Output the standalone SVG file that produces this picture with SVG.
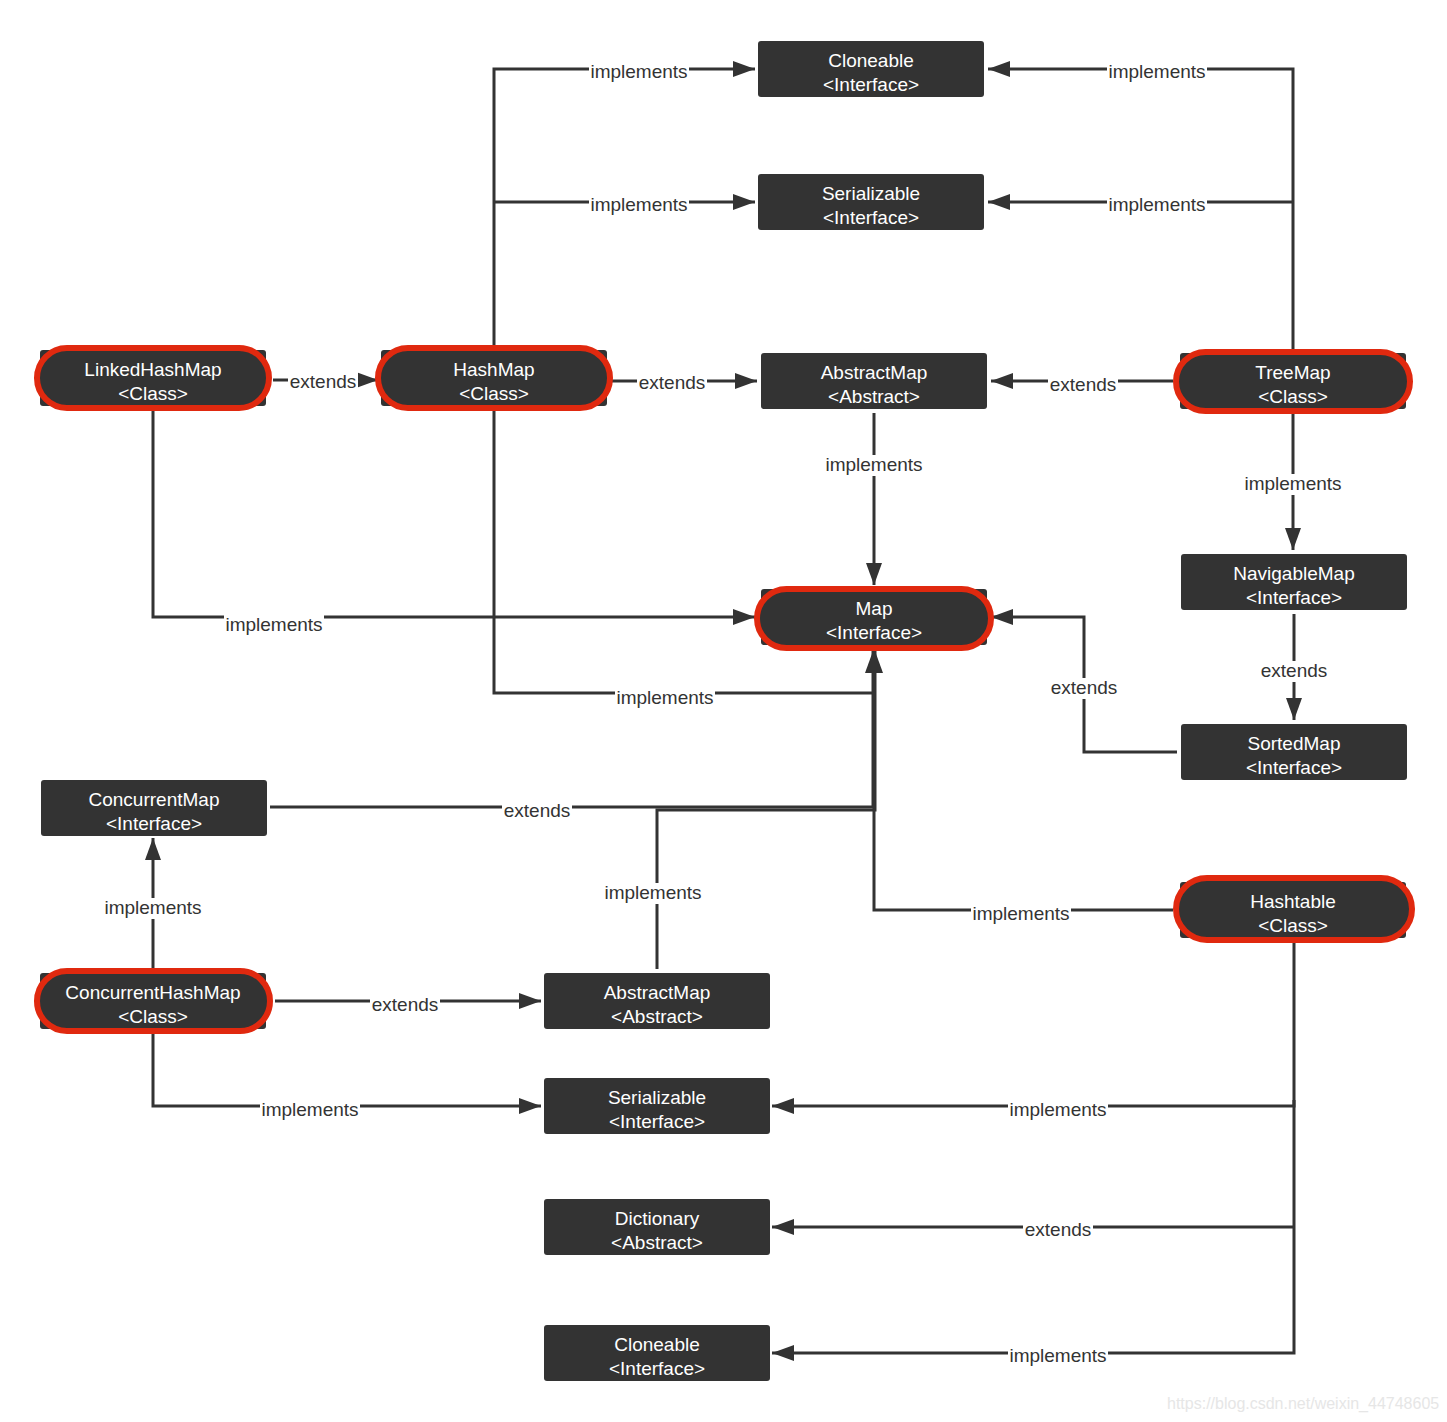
<svg xmlns="http://www.w3.org/2000/svg" width="1447" height="1422" viewBox="0 0 1447 1422">
<style>
.box{fill:#333333;rx:3;ry:3}
.pill{fill:#333333;stroke:#e0290f;stroke-width:6}
.nt{font-family:"Liberation Sans",Arial,sans-serif;font-size:19px;fill:#ffffff;text-anchor:middle}
.edge{fill:none;stroke:#333333;stroke-width:3}
.lb{fill:#ffffff}
.lbl{font-family:"Liberation Sans",Arial,sans-serif;font-size:19px;fill:#333333;text-anchor:middle}
.wm{font-family:"Liberation Sans",Arial,sans-serif;font-size:16px;fill:#e6e6e6}
</style>
<defs>
<marker id="arr" markerUnits="userSpaceOnUse" markerWidth="24" markerHeight="18" refX="22" refY="8" orient="auto">
<path d="M0,0 L22,8 L0,16 Z" fill="#333333"/>
</marker>
<rect id="bi" class="lb" x="-50" y="-16" width="100" height="21"/>
<rect id="be" class="lb" x="-35" y="-16" width="70" height="21"/>
</defs>
<rect width="1447" height="1422" fill="#ffffff"/>

<g id="connectors">
<path class="edge" d="M494,350 V69 H755" marker-end="url(#arr)"/>
<path class="edge" d="M494,202 H755" marker-end="url(#arr)"/>
<path class="edge" d="M1293,353 V69 H988" marker-end="url(#arr)"/>
<path class="edge" d="M1293,202 H988" marker-end="url(#arr)"/>
<path class="edge" d="M273,380 H378" marker-end="url(#arr)"/>
<path class="edge" d="M611,381 H757" marker-end="url(#arr)"/>
<path class="edge" d="M1173,381 H991" marker-end="url(#arr)"/>
<path class="edge" d="M874,413 V585" marker-end="url(#arr)"/>
<path class="edge" d="M1293,414 V550" marker-end="url(#arr)"/>
<path class="edge" d="M1294,614 V720" marker-end="url(#arr)"/>
<path class="edge" d="M1177,752 H1084 V617 H991" marker-end="url(#arr)"/>
<path class="edge" d="M153,411 V617 H755" marker-end="url(#arr)"/>
<path class="edge" d="M494,411 V693 H874 V651" marker-end="url(#arr)"/>
<path class="edge" d="M270,807 H873 V651" marker-end="url(#arr)"/>
<path class="edge" d="M657,969 V810 H875 V651" marker-end="url(#arr)"/>
<path class="edge" d="M1173,910 H874 V651" marker-end="url(#arr)"/>
<path class="edge" d="M153,968 V838" marker-end="url(#arr)"/>
<path class="edge" d="M275,1001 H541" marker-end="url(#arr)"/>
<path class="edge" d="M153,1034 V1106 H541" marker-end="url(#arr)"/>
<path class="edge" d="M1294,943 V1106 H772" marker-end="url(#arr)"/>
<path class="edge" d="M1294,1227 H772" marker-end="url(#arr)"/>
<path class="edge" d="M1294,1100 V1353 H772" marker-end="url(#arr)"/>

<use href="#bi" x="639" y="78"/><text class="lbl" x="639" y="78">implements</text>
<use href="#bi" x="639" y="211"/><text class="lbl" x="639" y="211">implements</text>
<use href="#bi" x="1157" y="78"/><text class="lbl" x="1157" y="78">implements</text>
<use href="#bi" x="1157" y="211"/><text class="lbl" x="1157" y="211">implements</text>
<use href="#be" x="323" y="388"/><text class="lbl" x="323" y="388">extends</text>
<use href="#be" x="672" y="389"/><text class="lbl" x="672" y="389">extends</text>
<use href="#be" x="1083" y="391"/><text class="lbl" x="1083" y="391">extends</text>
<use href="#bi" x="874" y="471"/><text class="lbl" x="874" y="471">implements</text>
<use href="#bi" x="1293" y="490"/><text class="lbl" x="1293" y="490">implements</text>
<use href="#be" x="1294" y="677"/><text class="lbl" x="1294" y="677">extends</text>
<use href="#be" x="1084" y="694"/><text class="lbl" x="1084" y="694">extends</text>
<use href="#bi" x="274" y="631"/><text class="lbl" x="274" y="631">implements</text>
<use href="#bi" x="665" y="704"/><text class="lbl" x="665" y="704">implements</text>
<use href="#be" x="537" y="817"/><text class="lbl" x="537" y="817">extends</text>
<use href="#bi" x="653" y="899"/><text class="lbl" x="653" y="899">implements</text>
<use href="#bi" x="1021" y="920"/><text class="lbl" x="1021" y="920">implements</text>
<use href="#bi" x="153" y="914"/><text class="lbl" x="153" y="914">implements</text>
<use href="#be" x="405" y="1011"/><text class="lbl" x="405" y="1011">extends</text>
<use href="#bi" x="310" y="1116"/><text class="lbl" x="310" y="1116">implements</text>
<use href="#bi" x="1058" y="1116"/><text class="lbl" x="1058" y="1116">implements</text>
<use href="#be" x="1058" y="1236"/><text class="lbl" x="1058" y="1236">extends</text>
<use href="#bi" x="1058" y="1362"/><text class="lbl" x="1058" y="1362">implements</text>
</g>

<g id="cloneable-top">
<rect class="box" x="758" y="41" width="226" height="56"/>
<text class="nt" x="871" y="67">Cloneable</text>
<text class="nt" x="871" y="91">&lt;Interface&gt;</text>
</g>
<g id="serializable-top">
<rect class="box" x="758" y="174" width="226" height="56"/>
<text class="nt" x="871" y="200">Serializable</text>
<text class="nt" x="871" y="224">&lt;Interface&gt;</text>
</g>
<g id="abstractmap-top">
<rect class="box" x="761" y="353" width="226" height="56"/>
<text class="nt" x="874" y="379">AbstractMap</text>
<text class="nt" x="874" y="403">&lt;Abstract&gt;</text>
</g>
<g id="linkedhashmap">
<rect class="box" x="40" y="350" width="226" height="56"/>
<rect class="pill" x="37" y="348" width="232" height="60" rx="30"/>
<text class="nt" x="153" y="376">LinkedHashMap</text>
<text class="nt" x="153" y="400">&lt;Class&gt;</text>
</g>
<g id="hashmap">
<rect class="box" x="381" y="350" width="226" height="56"/>
<rect class="pill" x="378" y="348" width="232" height="60" rx="30"/>
<text class="nt" x="494" y="376">HashMap</text>
<text class="nt" x="494" y="400">&lt;Class&gt;</text>
</g>
<g id="treemap">
<rect class="box" x="1180" y="353" width="226" height="56"/>
<rect class="pill" x="1176" y="352" width="234" height="59" rx="29.5"/>
<text class="nt" x="1293" y="379">TreeMap</text>
<text class="nt" x="1293" y="403">&lt;Class&gt;</text>
</g>
<g id="navigablemap">
<rect class="box" x="1181" y="554" width="226" height="56"/>
<text class="nt" x="1294" y="580">NavigableMap</text>
<text class="nt" x="1294" y="604">&lt;Interface&gt;</text>
</g>
<g id="map">
<rect class="box" x="761" y="589" width="226" height="56"/>
<rect class="pill" x="757" y="589" width="234" height="59" rx="29.5"/>
<text class="nt" x="874" y="615">Map</text>
<text class="nt" x="874" y="639">&lt;Interface&gt;</text>
</g>
<g id="sortedmap">
<rect class="box" x="1181" y="724" width="226" height="56"/>
<text class="nt" x="1294" y="750">SortedMap</text>
<text class="nt" x="1294" y="774">&lt;Interface&gt;</text>
</g>
<g id="concurrentmap">
<rect class="box" x="41" y="780" width="226" height="56"/>
<text class="nt" x="154" y="806">ConcurrentMap</text>
<text class="nt" x="154" y="830">&lt;Interface&gt;</text>
</g>
<g id="hashtable">
<rect class="box" x="1180" y="882" width="226" height="56"/>
<rect class="pill" x="1176" y="878" width="236" height="62" rx="31"/>
<text class="nt" x="1293" y="908">Hashtable</text>
<text class="nt" x="1293" y="932">&lt;Class&gt;</text>
</g>
<g id="concurrenthashmap">
<rect class="box" x="40" y="973" width="226" height="56"/>
<rect class="pill" x="37" y="971" width="233" height="60" rx="30"/>
<text class="nt" x="153" y="999">ConcurrentHashMap</text>
<text class="nt" x="153" y="1023">&lt;Class&gt;</text>
</g>
<g id="abstractmap-bottom">
<rect class="box" x="544" y="973" width="226" height="56"/>
<text class="nt" x="657" y="999">AbstractMap</text>
<text class="nt" x="657" y="1023">&lt;Abstract&gt;</text>
</g>
<g id="serializable-bottom">
<rect class="box" x="544" y="1078" width="226" height="56"/>
<text class="nt" x="657" y="1104">Serializable</text>
<text class="nt" x="657" y="1128">&lt;Interface&gt;</text>
</g>
<g id="dictionary">
<rect class="box" x="544" y="1199" width="226" height="56"/>
<text class="nt" x="657" y="1225">Dictionary</text>
<text class="nt" x="657" y="1249">&lt;Abstract&gt;</text>
</g>
<g id="cloneable-bottom">
<rect class="box" x="544" y="1325" width="226" height="56"/>
<text class="nt" x="657" y="1351">Cloneable</text>
<text class="nt" x="657" y="1375">&lt;Interface&gt;</text>
</g>
<text class="wm" x="1167" y="1409">https://blog.csdn.net/weixin_44748605</text>
</svg>
